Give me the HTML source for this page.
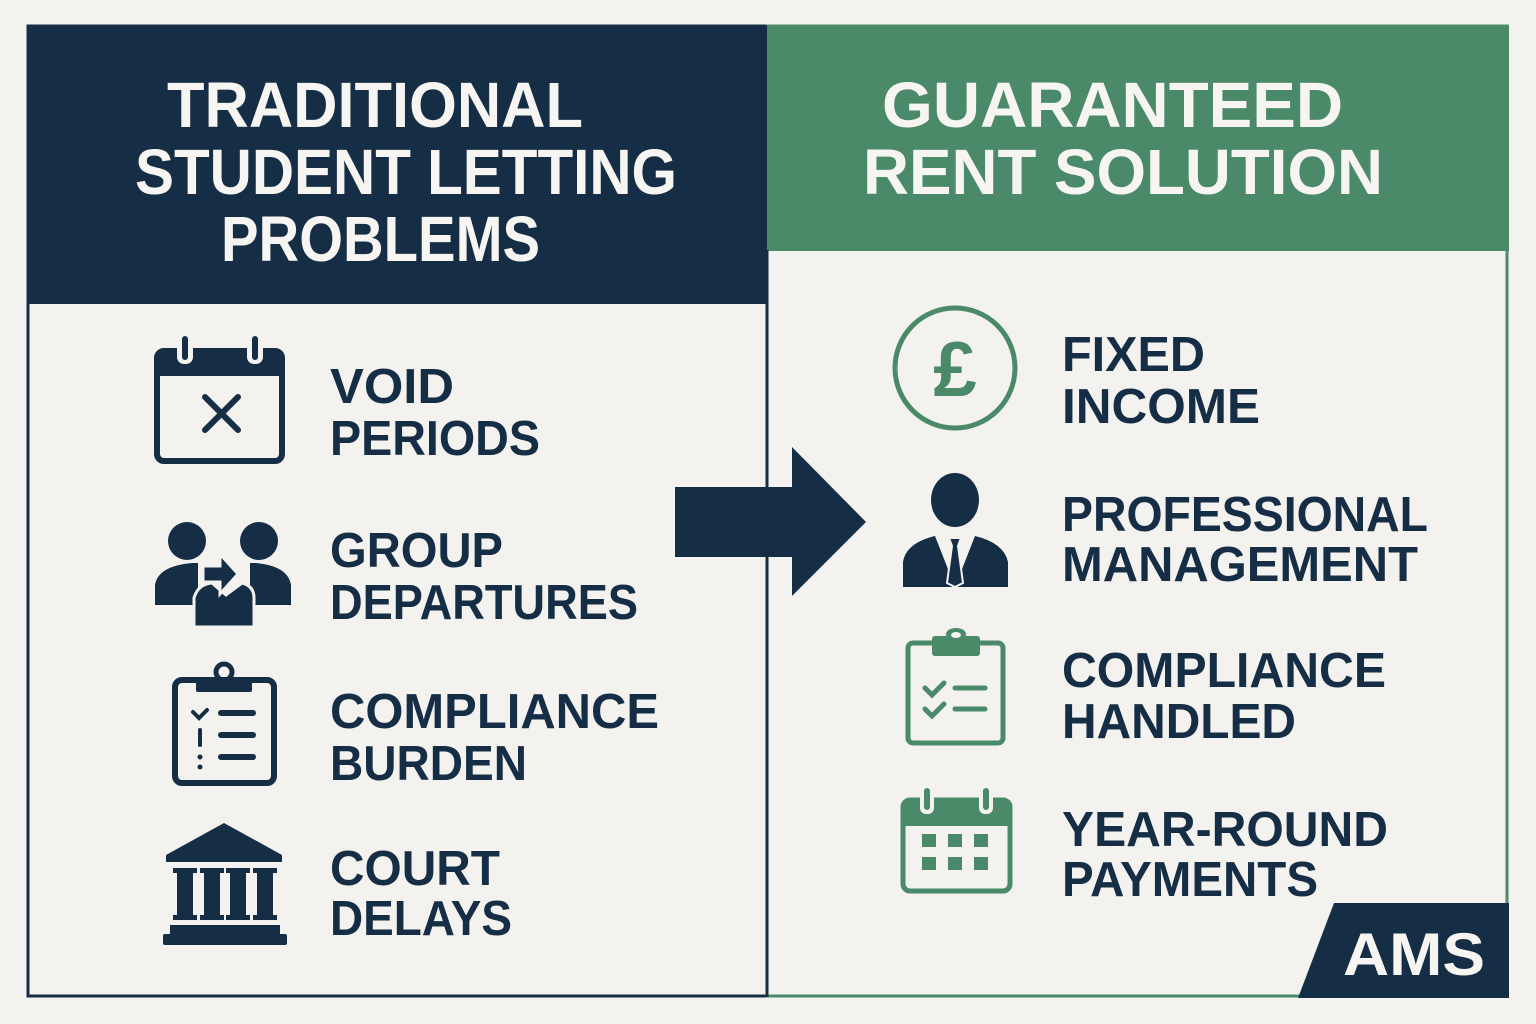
<!DOCTYPE html>
<html><head><meta charset="utf-8"><style>
html,body{margin:0;padding:0;background:#f3f2ee;}
svg{display:block;}
text{font-family:"Liberation Sans",sans-serif;font-weight:bold;}
</style></head><body>
<svg width="1536" height="1024" viewBox="0 0 1536 1024" xmlns="http://www.w3.org/2000/svg">
<rect width="1536" height="1024" fill="#f3f2ee"/>
<rect x="28" y="26" width="739" height="970" fill="none" stroke="#152d45" stroke-width="3"/>
<rect x="767" y="26" width="740" height="970" fill="none" stroke="#4b8a69" stroke-width="3"/>
<rect x="27" y="25" width="741" height="279" fill="#152d45"/>
<rect x="767" y="25" width="742" height="226" fill="#4b8a69"/>
<line x1="767" y1="250" x2="767" y2="997" stroke="#152d45" stroke-width="3"/>
<g fill="#f6f5f1" font-size="64">
<text x="167" y="127" textLength="416" lengthAdjust="spacingAndGlyphs">TRADITIONAL</text>
<text x="135" y="194" textLength="542" lengthAdjust="spacingAndGlyphs">STUDENT LETTING</text>
<text x="221" y="261" textLength="319" lengthAdjust="spacingAndGlyphs">PROBLEMS</text>
<text x="882" y="127" textLength="461" lengthAdjust="spacingAndGlyphs">GUARANTEED</text>
<text x="863" y="194" textLength="520" lengthAdjust="spacingAndGlyphs">RENT SOLUTION</text>
</g>
<g fill="#152d45" font-size="49">
<text x="330" y="403" textLength="124" lengthAdjust="spacingAndGlyphs">VOID</text>
<text x="330" y="455" textLength="210" lengthAdjust="spacingAndGlyphs">PERIODS</text>
<text x="330" y="567" textLength="173" lengthAdjust="spacingAndGlyphs">GROUP</text>
<text x="330" y="619" textLength="308" lengthAdjust="spacingAndGlyphs">DEPARTURES</text>
<text x="330" y="728" textLength="329" lengthAdjust="spacingAndGlyphs">COMPLIANCE</text>
<text x="330" y="780" textLength="197" lengthAdjust="spacingAndGlyphs">BURDEN</text>
<text x="330" y="885" textLength="170" lengthAdjust="spacingAndGlyphs">COURT</text>
<text x="330" y="935" textLength="182" lengthAdjust="spacingAndGlyphs">DELAYS</text>
<text x="1062" y="371" textLength="143" lengthAdjust="spacingAndGlyphs">FIXED</text>
<text x="1062" y="423" textLength="198" lengthAdjust="spacingAndGlyphs">INCOME</text>
<text x="1062" y="531" textLength="366" lengthAdjust="spacingAndGlyphs">PROFESSIONAL</text>
<text x="1062" y="581" textLength="356" lengthAdjust="spacingAndGlyphs">MANAGEMENT</text>
<text x="1062" y="687" textLength="324" lengthAdjust="spacingAndGlyphs">COMPLIANCE</text>
<text x="1062" y="738" textLength="234" lengthAdjust="spacingAndGlyphs">HANDLED</text>
<text x="1062" y="846" textLength="326" lengthAdjust="spacingAndGlyphs">YEAR-ROUND</text>
<text x="1062" y="896" textLength="256" lengthAdjust="spacingAndGlyphs">PAYMENTS</text>
</g>
<polygon points="675,487 792,487 792,447 866,522 792,596 792,557 675,557" fill="#152d45"/>
<g fill="none" stroke="#152d45">
<rect x="157" y="351" width="125" height="110" rx="7" stroke-width="6"/>
<line x1="157" y1="365" x2="282" y2="365" stroke-width="22"/>
<line x1="205" y1="397" x2="238" y2="430" stroke-width="6" stroke-linecap="round"/>
<line x1="238" y1="397" x2="205" y2="430" stroke-width="6" stroke-linecap="round"/>
</g>
<rect x="177" y="334" width="16" height="30" rx="7" fill="#f3f2ee"/>
<rect x="247" y="334" width="16" height="30" rx="7" fill="#f3f2ee"/>
<rect x="182" y="336" width="6" height="24" rx="3" fill="#152d45"/>
<rect x="252" y="336" width="6" height="24" rx="3" fill="#152d45"/>
<g fill="#152d45">
<circle cx="187" cy="541" r="19"/>
<circle cx="259" cy="541" r="19"/>
<path d="M155,605 L155,585 Q158,566 192,563 L198,563 L198,605 Z"/>
<path d="M291,605 L291,585 Q288,566 256,563 L250,563 L250,605 Z"/>
<path d="M194,627 L194,598 Q198,584 212,583 L226,595 L242,583 Q254,586 254,598 L254,627 Z" stroke="#f3f2ee" stroke-width="3"/>
<path d="M203,566 L220,566 L220,554 L238,574 L220,594 L220,582 L203,582 Z" stroke="#f3f2ee" stroke-width="3"/>
</g>
<g fill="none" stroke="#152d45" stroke-width="6" stroke-linecap="round">
<rect x="175" y="680" width="99" height="103" rx="7"/>
<circle cx="224" cy="672" r="8" stroke-width="5"/>
<path d="M193,712 L199,718 L207,710" stroke-width="4"/>
<line x1="200" y1="730" x2="200" y2="745" stroke-width="4"/>
<line x1="221" y1="713" x2="253" y2="713"/>
<line x1="221" y1="735" x2="253" y2="735"/>
<line x1="221" y1="757" x2="253" y2="757"/>
</g>
<rect x="196" y="678" width="56" height="14" rx="2" fill="#152d45"/>
<circle cx="200" cy="757" r="2.5" fill="#152d45"/>
<circle cx="200" cy="767" r="2.5" fill="#152d45"/>
<g fill="#152d45">
<polygon points="224,823 166,855 166,862 282,862 282,855"/>
<rect x="177" y="868" width="16" height="52"/><rect x="173" y="868" width="24" height="5"/><rect x="173" y="915" width="24" height="5"/>
<rect x="204" y="868" width="16" height="52"/><rect x="200" y="868" width="24" height="5"/><rect x="200" y="915" width="24" height="5"/>
<rect x="230" y="868" width="16" height="52"/><rect x="226" y="868" width="24" height="5"/><rect x="226" y="915" width="24" height="5"/>
<rect x="257" y="868" width="16" height="52"/><rect x="253" y="868" width="24" height="5"/><rect x="253" y="915" width="24" height="5"/>
<rect x="170" y="925" width="110" height="9"/>
<rect x="163" y="934" width="124" height="11" rx="2"/>
</g>
<circle cx="955" cy="368" r="60" fill="none" stroke="#4b8a69" stroke-width="5"/>
<text x="955" y="396" font-size="78" fill="#4b8a69" text-anchor="middle">£</text>
<g fill="#152d45">
<ellipse cx="955" cy="500" rx="24" ry="27"/>
<path d="M903,587 L903,562 Q906,543 935,536 L955,587 L975,536 Q1004,543 1008,562 L1008,587 Z"/>
</g>
<polygon points="949,538 961,538 958,546 963,583 955,587 947,583 952,546" fill="#152d45" stroke="#f3f2ee" stroke-width="2"/>
<g fill="none" stroke="#4b8a69" stroke-width="5" stroke-linecap="round">
<rect x="908" y="643" width="95" height="100" rx="5"/>
<path d="M925,688 L932,695 L944,683"/>
<path d="M925,709 L932,716 L944,704"/>
<line x1="955" y1="688" x2="985" y2="688"/>
<line x1="955" y1="709" x2="985" y2="709"/>
</g>
<rect x="932" y="636" width="48" height="20" rx="3" fill="#4b8a69"/>
<ellipse cx="956" cy="634" rx="10" ry="6" fill="#4b8a69"/>
<ellipse cx="956" cy="635" rx="5" ry="3" fill="#f3f2ee"/>
<g fill="none" stroke="#4b8a69">
<rect x="903" y="800" width="107" height="91" rx="7" stroke-width="5"/>
<line x1="903" y1="814" x2="1010" y2="814" stroke-width="24"/>
</g>
<rect x="920" y="786" width="14" height="28" rx="6" fill="#f3f2ee"/>
<rect x="979" y="786" width="14" height="28" rx="6" fill="#f3f2ee"/>
<rect x="924" y="788" width="6" height="22" rx="3" fill="#4b8a69"/>
<rect x="983" y="788" width="6" height="22" rx="3" fill="#4b8a69"/>
<g fill="#4b8a69">
<rect x="922" y="834" width="14" height="13"/><rect x="948" y="834" width="14" height="13"/><rect x="974" y="834" width="14" height="13"/>
<rect x="922" y="857" width="14" height="13"/><rect x="948" y="857" width="14" height="13"/><rect x="974" y="857" width="14" height="13"/>
</g>
<polygon points="1334,903 1509,903 1509,998 1298,998" fill="#152d45"/>
<text x="1343" y="975" font-size="60" fill="#f6f5f1" textLength="142" lengthAdjust="spacingAndGlyphs">AMS</text>
</svg>
</body></html>
